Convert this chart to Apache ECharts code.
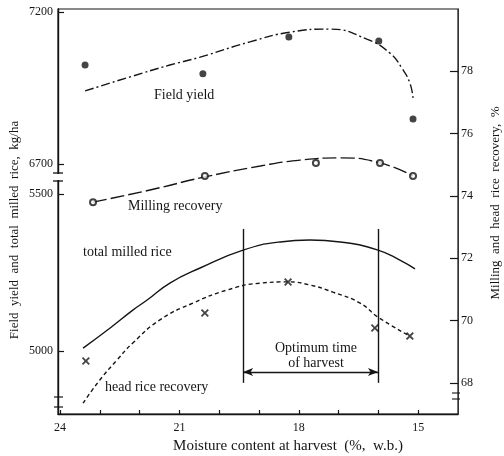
<!DOCTYPE html>
<html>
<head>
<meta charset="utf-8">
<script src="https://cdn.jsdelivr.net/npm/echarts@6/dist/echarts.min.js"></script>
<style>
  html, body { margin: 0; padding: 0; background: #fff; }
  #chart { width: 504px; height: 456px; }
</style>
</head>
<body>
<div id="chart"></div>
<script>
// Moisture content at harvest (% w.b.) runs right-to-left on the x axis.
const moistureTicks = [15, 16, 17, 18, 19, 20, 21, 22, 23, 24];
const moistureLabels = [24, 21, 18, 15];

// Left axis is broken: a lower band (total milled rice) and an upper band (field yield), kg/ha.
const yieldLowTicks = [5000, 5500];
const yieldHighTicks = [6700, 7200];
// Right axis: milling and head rice recovery, %.
const recoveryTicks = [68, 70, 72, 74, 76, 78];

// Field yield, kg/ha: observations and fitted curve
const fieldYieldObs = [[23.37, 7026], [20.41, 6997], [18.25, 7118], [15.99, 7105], [15.13, 6849]];
const fieldYieldFit = [[23.37, 6941], [22.24, 6987], [21.24, 7026], [20.48, 7052], [19.23, 7102],
  [18.22, 7134], [17.22, 7144], [16.29, 7111], [15.71, 7065], [15.41, 7016], [15.21, 6967], [15.13, 6918]];

// Total milled rice, kg/ha (fitted curve)
const totalMilledFit = [[23.42, 5010], [22.74, 5074], [22.17, 5131], [21.81, 5163], [21.24, 5217],
  [20.48, 5265], [19.40, 5322], [18.47, 5348], [17.72, 5354], [16.96, 5348], [16.01, 5322],
  [15.46, 5290], [15.08, 5262]];

// Milling recovery, %
const millingObs = [[23.17, 73.80], [20.36, 74.64], [17.57, 75.06], [15.96, 75.06], [15.13, 74.64]];
const millingFit = [[23.17, 73.80], [21.74, 74.19], [20.36, 74.61], [18.97, 74.96], [17.97, 75.15],
  [16.96, 75.22], [15.96, 75.06], [15.13, 74.64]];

// Head rice recovery, %
const headRiceObs = [[23.35, 68.70], [20.36, 70.24], [18.27, 71.24], [16.09, 69.76], [15.21, 69.50]];
const headRiceFit = [[23.42, 67.35], [23.00, 68.09], [22.57, 68.73], [22.17, 69.28], [21.49, 70.02],
  [20.66, 70.56], [19.80, 70.98], [18.97, 71.20], [18.27, 71.24], [17.72, 71.14], [17.14, 70.91],
  [16.46, 70.56], [16.01, 70.11], [15.21, 69.50]];

// Optimum harvest window (moisture bounds) and bracket heights on the recovery scale
const optimumWindow = [19.40, 16.01];
const optimumBracket = { top: 72.94, bottom: 68.00, arrow: 68.35 };

const FONT = '"Liberation Serif", "DejaVu Serif", serif';
const INK = '#151515';

const chart = echarts.init(document.getElementById('chart'), null, { renderer: 'canvas' });

// bold diagonal cross used for head rice observations
const crossPath = 'path://M0,1.6L1.6,0L5,3.4L8.4,0L10,1.6L6.6,5L10,8.4L8.4,10L5,6.6L1.6,10L0,8.4L3.4,5Z';

const baseLabel = { color: INK, fontFamily: FONT, fontSize: 12, formatter: v => String(v) };

const text = (t, size, extra) => Object.assign({ type: 'text', style: { text: t, font: size + 'px ' + FONT, fill: INK } }, extra);

chart.setOption({
  animation: false,
  backgroundColor: '#fff',
  grid: { left: 58, right: 46, top: 9, bottom: 42, show: true, borderColor: INK, borderWidth: 1.2 },
  xAxis: {
    type: 'value', inverse: true, min: 14, max: 24.05,
    axisLine: { show: true, lineStyle: { color: INK, width: 1.4 } },
    axisTick: { show: true, inside: true, length: 4, customValues: moistureTicks, lineStyle: { color: INK, width: 1.2 } },
    axisLabel: { ...baseLabel, margin: 8, customValues: moistureLabels },
    splitLine: { show: false }
  },
  yAxis: [
    {
      type: 'value', position: 'left', min: 4800, max: 6090,
      axisLine: { show: true, lineStyle: { color: INK, width: 1.4 } },
      axisTick: { show: true, inside: true, length: 6, customValues: yieldLowTicks, lineStyle: { color: INK, width: 1.2 } },
      axisLabel: { ...baseLabel, margin: 5, customValues: yieldLowTicks },
      splitLine: { show: false }
    },
    {
      type: 'value', position: 'right', min: 67, max: 80,
      axisLine: { show: true, lineStyle: { color: '#333', width: 1 } },
      axisTick: { show: true, inside: true, length: 8, customValues: recoveryTicks, lineStyle: { color: INK, width: 1.2 } },
      axisLabel: { ...baseLabel, margin: 3, customValues: recoveryTicks },
      splitLine: { show: false }
    },
    {
      type: 'value', position: 'left', min: 5880, max: 7210,
      axisLine: { show: false },
      axisTick: { show: true, inside: true, length: 6, customValues: yieldHighTicks, lineStyle: { color: INK, width: 1.2 } },
      axisLabel: { ...baseLabel, margin: 5, customValues: yieldHighTicks },
      splitLine: { show: false }
    }
  ],
  series: [
    {
      name: 'Field yield (fit)', type: 'line', yAxisIndex: 2, data: fieldYieldFit,
      smooth: true, showSymbol: false, silent: true,
      lineStyle: { color: INK, width: 1.4, type: [9, 3, 2, 3] }
    },
    {
      name: 'Field yield', type: 'scatter', yAxisIndex: 2, data: fieldYieldObs,
      symbol: 'circle', symbolSize: 7, itemStyle: { color: INK }
    },
    {
      name: 'Total milled rice', type: 'line', yAxisIndex: 0, data: totalMilledFit,
      smooth: true, showSymbol: false, silent: true,
      lineStyle: { color: INK, width: 1.4 }
    },
    {
      name: 'Milling recovery (fit)', type: 'line', yAxisIndex: 1, data: millingFit,
      smooth: true, showSymbol: false, silent: true,
      lineStyle: { color: INK, width: 1.4, type: [14, 4] }
    },
    {
      name: 'Milling recovery', type: 'scatter', yAxisIndex: 1, data: millingObs,
      symbol: 'emptyCircle', symbolSize: 6, z: 5,
      itemStyle: { color: INK, borderColor: INK, borderWidth: 1.3 }
    },
    {
      name: 'Head rice recovery (fit)', type: 'line', yAxisIndex: 1, data: headRiceFit,
      smooth: true, showSymbol: false, silent: true,
      lineStyle: { color: INK, width: 1.4, type: [4, 3] }
    },
    {
      name: 'Head rice recovery', type: 'scatter', yAxisIndex: 1, data: headRiceObs,
      symbol: crossPath, symbolSize: 8, itemStyle: { color: INK }
    },
    {
      name: 'Optimum time of harvest', type: 'line', yAxisIndex: 1, data: [],
      markLine: {
        silent: true, animation: false,
        symbol: ['none', 'none'],
        label: { show: false },
        lineStyle: { color: INK, width: 1.4, type: 'solid' },
        data: [
          [{ coord: [optimumWindow[0], optimumBracket.top] }, { coord: [optimumWindow[0], optimumBracket.bottom] }],
          [{ coord: [optimumWindow[1], optimumBracket.top] }, { coord: [optimumWindow[1], optimumBracket.bottom] }],
          [{ coord: [optimumWindow[0], optimumBracket.arrow], symbol: 'arrow', symbolSize: [6, 10] },
           { coord: [optimumWindow[1], optimumBracket.arrow], symbol: 'arrow', symbolSize: [6, 10] }]
        ]
      }
    }
  ],
  graphic: [
    // curve labels
    text('Field yield', 14, { left: 154, top: 88 }),
    text('Milling recovery', 14, { left: 128, top: 199 }),
    text('total milled rice', 14, { left: 83, top: 245 }),
    text('head rice recovery', 14, { left: 105, top: 380 }),
    { type: 'text', x: 316, y: 348, style: { text: 'Optimum time', font: '14px ' + FONT, fill: INK, align: 'center', verticalAlign: 'middle' } },
    { type: 'text', x: 316, y: 363, style: { text: 'of harvest', font: '14px ' + FONT, fill: INK, align: 'center', verticalAlign: 'middle' } },
    // axis titles
    { type: 'text', x: 288, y: 446, style: { text: 'Moisture content at harvest  (%,  w.b.)', font: '15px ' + FONT, fill: INK, align: 'center', verticalAlign: 'middle' } },
    { type: 'text', x: 15, y: 230, rotation: Math.PI / 2, style: { text: 'Field  yield  and  total  milled  rice,  kg/ha', font: '13px ' + FONT, fill: INK, align: 'center', verticalAlign: 'middle' } },
    { type: 'text', x: 496, y: 203, rotation: Math.PI / 2, style: { text: 'Milling  and  head  rice  recovery,  %', font: '13px ' + FONT, fill: INK, align: 'center', verticalAlign: 'middle' } },
    // scale-break marks on the left axis
    { type: 'rect', shape: { x: 54, y: 174, width: 9, height: 6 }, style: { fill: '#fff' }, z: 100 },
    { type: 'line', shape: { x1: 53, y1: 173, x2: 63, y2: 173 }, style: { stroke: INK, lineWidth: 1.3 }, z: 101 },
    { type: 'line', shape: { x1: 53, y1: 181, x2: 63, y2: 181 }, style: { stroke: INK, lineWidth: 1.3 }, z: 101 },
    { type: 'line', shape: { x1: 54, y1: 397, x2: 63, y2: 397 }, style: { stroke: INK, lineWidth: 1.2 }, z: 101 },
    { type: 'line', shape: { x1: 54, y1: 407, x2: 63, y2: 407 }, style: { stroke: INK, lineWidth: 1.2 }, z: 101 },
    // scale-break marks on the right axis
    { type: 'line', shape: { x1: 452, y1: 393, x2: 460, y2: 393 }, style: { stroke: INK, lineWidth: 1.1 }, z: 101 },
    { type: 'line', shape: { x1: 452, y1: 399, x2: 460, y2: 399 }, style: { stroke: INK, lineWidth: 1.1 }, z: 101 }
  ]
});
</script>
</body>
</html>
